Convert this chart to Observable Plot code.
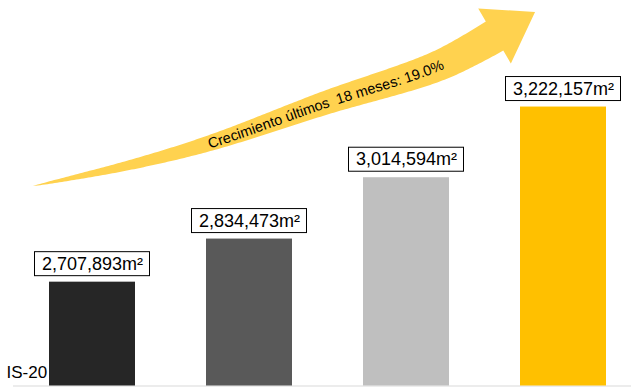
<!DOCTYPE html>
<html><head><meta charset="utf-8">
<script src="https://cdn.jsdelivr.net/npm/d3@7"></script>
<script src="https://cdn.jsdelivr.net/npm/@observablehq/plot@0.6"></script>
<style>
html,body{margin:0;padding:0;background:#fff;}
#chart{position:relative;width:631px;height:387px;overflow:hidden;}
</style></head><body><div id="chart"></div>
<script>
// ---- data ----
const categories = ["IS-2020", "IIS-2020", "IS-2021", "IIS-2021"];
const values = [2707893, 2834473, 3014594, 3222157];
const labels = ["2,707,893m²", "2,834,473m²", "3,014,594m²", "3,222,157m²"];
const colors = ["#262626", "#595959", "#bfbfbf", "#ffc000"];
const arrowText = "Crecimiento últimos  18 meses: 19.0%";
const cornerText = "IS-20";
// growth arrow centerline: (fractional bar index from first bar centre, value)
const arrowIdx = [-0.376, 0.242, 0.752, 1.484, 2.217, 2.564];
const arrowVal = [2988800, 3050500, 3115000, 3232500, 3344000, 3429300];
const arrowTipIdx = 2.822;
const arrowTipVal = 3499800;
const yMin = 2403000, yMax = 3535000;

const data = categories.map((c, i) => ({cat: c, value: values[i], label: labels[i], color: colors[i]}));

const ns = "http://www.w3.org/2000/svg";
function arrowMark(a, b) {
  const scales = (a && typeof a.y === "function") ? a : b;
  const x = scales.x, y = scales.y;
  const step = x(categories[1]) - x(categories[0]);
  const bw = typeof x.bandwidth === "function" ? x.bandwidth() : step * 0.548;
  const cx = t => x(categories[0]) + bw / 2 + t * step;
  const pts = arrowIdx.map((t, k) => [cx(t), y(arrowVal[k])]);
  const tip = [cx(arrowTipIdx), y(arrowTipVal)];
  const d = d3.line().curve(d3.curveCatmullRom.alpha(0.5))(pts);
  const tmp = document.createElementNS(ns, "svg");
  tmp.setAttribute("style", "position:absolute;left:0;top:0;visibility:hidden");
  const p = document.createElementNS(ns, "path");
  p.setAttribute("d", d);
  tmp.appendChild(p);
  document.body.appendChild(tmp);
  const L = p.getTotalLength();
  const N = 200;
  const samples = d3.range(N + 1).map(k => { const q = p.getPointAtLength(L * k / N); return [q.x, q.y, L * k / N]; });
  document.body.removeChild(tmp);
  const shaftW = 34, headHalf = 32;
  const upper = [], lower = [];
  samples.forEach((s, k) => {
    const a0 = samples[Math.max(0, k - 1)], a1 = samples[Math.min(N, k + 1)];
    let tx = a1[0] - a0[0], ty = a1[1] - a0[1];
    const len = Math.hypot(tx, ty) || 1; tx /= len; ty /= len;
    const nx = ty, ny = -tx;
    const w = shaftW * Math.pow(s[2] / L, 0.785) / 2;
    upper.push([s[0] + nx * w, s[1] + ny * w]);
    lower.push([s[0] - nx * w, s[1] - ny * w]);
  });
  const B = pts[pts.length - 1];
  let ux = tip[0] - B[0], uy = tip[1] - B[1];
  const ul = Math.hypot(ux, uy); ux /= ul; uy /= ul;
  const hn = [uy, -ux];
  const poly = [...upper,
    [B[0] + hn[0] * headHalf, B[1] + hn[1] * headHalf],
    tip,
    [B[0] - hn[0] * headHalf, B[1] - hn[1] * headHalf],
    ...lower.reverse()];
  const g = document.createElementNS(ns, "g");
  const shape = document.createElementNS(ns, "path");
  shape.setAttribute("d", "M" + poly.map(q => q[0].toFixed(2) + "," + q[1].toFixed(2)).join("L") + "Z");
  shape.setAttribute("fill", "#ffd24f");
  g.appendChild(shape);
  const cl = document.createElementNS(ns, "path");
  cl.setAttribute("id", "arrow-centerline");
  cl.setAttribute("d", d);
  cl.setAttribute("fill", "none");
  g.appendChild(cl);
  const t = document.createElementNS(ns, "text");
  t.setAttribute("font-family", "Liberation Sans");
  t.setAttribute("font-size", "14.5");
  t.setAttribute("fill", "#000");
  t.setAttribute("text-anchor", "middle");
  t.setAttribute("dy", "0.36em");
  t.setAttribute("style", "white-space:pre");
  const tp = document.createElementNS(ns, "textPath");
  tp.setAttribute("href", "#arrow-centerline");
  tp.setAttributeNS("http://www.w3.org/1999/xlink", "xlink:href", "#arrow-centerline");
  tp.setAttribute("startOffset", "62.5%");
  tp.textContent = arrowText;
  t.appendChild(tp);
  g.appendChild(t);
  return g;
}

const chart = Plot.plot({
  width: 631, height: 387,
  marginTop: 0, marginRight: 0, marginBottom: 1.5, marginLeft: 13,
  style: {background: "transparent", fontFamily: "Liberation Sans", overflow: "visible"},
  x: {domain: categories, paddingInner: 0.452, paddingOuter: 0.194, align: 0.59, axis: null},
  y: {domain: [yMin, yMax], axis: null},
  color: {type: "identity"},
  marks: [
    Plot.ruleY([yMin], {stroke: "#d9d9d9", strokeWidth: 1}),
    Plot.text([cornerText], {text: d => d, frameAnchor: "bottom-left", textAnchor: "start", dx: -7, dy: -7.6, fontSize: 17, fill: "#000"}),
    Plot.barY(data, {x: "cat", y1: yMin, y2: "value", fill: "color"}),
    arrowMark,
    Plot.barY(data, {x: "cat", y1: "value", y2: "value", fill: "white", stroke: "black", strokeWidth: 1,
      insetTop: -30, insetBottom: 6, insetLeft: -14.5, insetRight: -14.5}),
    Plot.text(data, {x: "cat", y: "value", text: "label", dy: -18, fontSize: 18, fill: "#000"})
  ]
});
document.getElementById("chart").appendChild(chart);
</script></body></html>
